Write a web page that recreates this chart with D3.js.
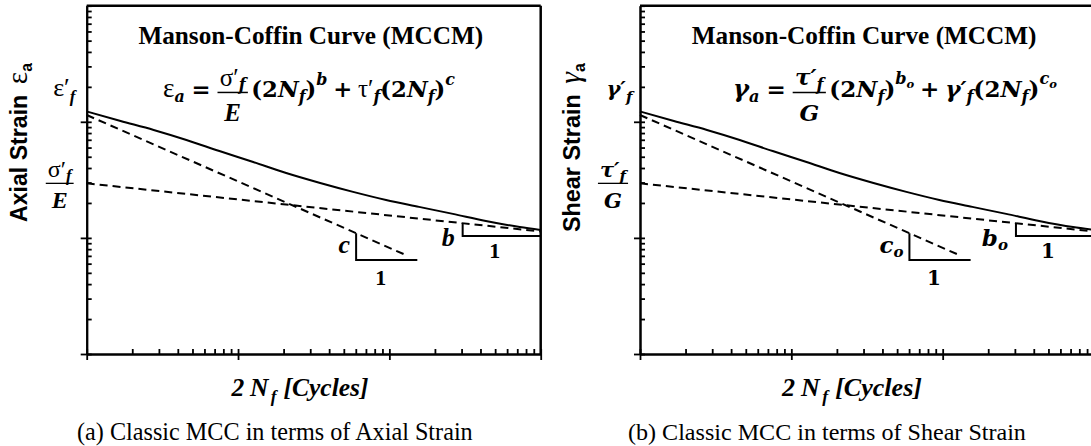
<!DOCTYPE html>
<html>
<head>
<meta charset="utf-8">
<script src="https://cdn.jsdelivr.net/npm/d3@7"></script>
<style>
  body { margin: 0; background: #fff; }
  svg text { fill: #000; }
</style>
</head>
<body>
<svg id="fig" width="1091" height="446"></svg>
<script>
// values: 2Nf (cycles) and strain amplitude, log-log
const xDomain = [1, 1000];
const yDomain = [1e-4, 1e-1];

const cycles = [1, 1.675, 2.77, 4.56, 7.53, 12.6, 20.8, 34.9, 57.6, 95.1, 157, 263, 434, 727, 1000];
const totalStrain = [0.01227, 0.01016, 0.0085, 0.00697, 0.0056, 0.0045, 0.00362, 0.00297, 0.00249, 0.00212, 0.00185, 0.00161, 0.0014, 0.00124, 0.00117];

const plasticCycles = [1, 133];
const plasticStrain = [0.01144, 0.000698];

const elasticCycles = [1, 1000];
const elasticStrain = [0.00295, 0.001135];

// slope triangles: [x left, x right, y top, y bottom]
const triC = [60.3, 153, 0.001098, 0.000645];
const triB = [305, 1000, 0.00134, 0.00104];

const W = 454, H = 348.3;

const SERIF = '"Liberation Serif", "Times New Roman", serif';
const MATH = '"DejaVu Serif", Cambria, serif';
const FONT = {
  r:   { family: SERIF, weight: 400, style: 'normal' },
  b:   { family: SERIF, weight: 700, style: 'normal' },
  bi:  { family: SERIF, weight: 700, style: 'italic' },
  i:   { family: SERIF, weight: 400, style: 'italic' },
  m:   { family: MATH, weight: 700, style: 'normal' },
  mi:  { family: MATH, weight: 700, style: 'italic' },
  sb:  { family: '"Liberation Sans", Arial, sans-serif', weight: 700, style: 'normal' }
};

function put(g, x, y, t, f, s) {
  const F = FONT[f];
  return g.append('text')
    .attr('x', x).attr('y', y)
    .style('font-family', F.family)
    .style('font-weight', F.weight)
    .style('font-style', F.style)
    .style('font-size', s + 'px')
    .text(t);
}

// draws a run of text pieces on baseline 0, returns width
function writeRuns(g, list) {
  let x = 0;
  for (const r of list) {
    x += r.pre || 0;
    if (r.num) {
      const ng = g.append('g'), dg = g.append('g');
      const nw = writeRuns(ng, r.num), dw = writeRuns(dg, r.den);
      const w = Math.max(nw, dw) + 4;
      ng.attr('transform', `translate(${x + (w - nw) / 2},${-r.up})`);
      dg.attr('transform', `translate(${x + (w - dw) / 2},${r.down})`);
      g.append('line')
        .attr('x1', x).attr('x2', x + w)
        .attr('y1', -r.bar).attr('y2', -r.bar)
        .attr('stroke', '#000').attr('stroke-width', 1.3);
      x += w;
    } else {
      const t = put(g, x, r.dy || 0, r.t, r.f, r.s || 22);
      x += t.node().getComputedTextLength();
    }
    x += r.post || 0;
  }
  return x;
}

function block(parent, x, y, list, anchor, rot, fitW) {
  const g = parent.append('g');
  const w = writeRuns(g, list);
  const k = fitW ? fitW / w : 1;
  const shift = anchor === 'middle' ? -w / 2 : anchor === 'end' ? -w : 0;
  g.attr('transform', `translate(${x},${y})${rot ? ' rotate(' + rot + ')' : ''} scale(${k}) translate(${shift},0)`);
  return g;
}

const sub = (t, f = 'mi', s = 14) => ({ t, f, s, dy: 4 });
const sup = (t, f = 'mi', s = 14) => ({ t, f, s, dy: -11 });

const panels = [
  {
    ox: 86.7,
    formulaX: 163 - 86.7, formulaW: 292,
    formula: [
      { t: 'ε', f: 'r', s: 24 }, sub('a'),
      { t: '=', f: 'm', s: 20, pre: 6, post: 6 },
      { num: [{ t: 'σ′', f: 'r', s: 22 }, sub('f')], den: [{ t: 'E', f: 'bi', s: 22 }], up: 10, down: 21, bar: 4 },
      { t: '(2', f: 'm', s: 20, pre: 3 }, { t: 'N', f: 'mi', s: 20 }, sub('f'), { t: ')', f: 'm', s: 20 },
      sup('b'),
      { t: '+', f: 'm', s: 20, pre: 5, post: 5 },
      { t: 'τ′', f: 'r', s: 22 }, sub('f'),
      { t: '(2', f: 'm', s: 20 }, { t: 'N', f: 'mi', s: 20 }, sub('f'), { t: ')', f: 'm', s: 20 },
      sup('c')
    ],
    yTitle: [{ t: 'Axial Strain', f: 'sb', s: 22 }, { t: 'ε', f: 'r', s: 28, pre: 10 }, { t: 'a', f: 'sb', s: 15, dy: 5 }],
    yTitleX: 27 - 86.7, yTitleW: 159,
    topLabel: [{ t: 'ε′', f: 'r', s: 26 }, { t: 'f', f: 'bi', s: 17, dy: 6 }],
    fracLabel: [{ num: [{ t: 'σ′', f: 'r', s: 24 }, { t: 'f', f: 'bi', s: 17, dy: 4 }], den: [{ t: 'E', f: 'bi', s: 24 }], up: 6.5, down: 24.5, bar: 0 }],
    cLabel: [{ t: 'c', f: 'bi', s: 26 }],
    bLabel: [{ t: 'b', f: 'bi', s: 26 }],
    one: { t: '1', f: 'b', s: 22 },
    caption: '(a) Classic MCC in terms of Axial Strain',
    captionX: 275, captionW: 396,
    xTitleX: 300, xTitleW: 137
  },
  {
    ox: 640,
    formulaX: 733 - 640, formulaW: 324,
    formula: [
      { t: 'γ', f: 'mi', s: 21 }, sub('a'),
      { t: '=', f: 'm', s: 20, pre: 6, post: 6 },
      { num: [{ t: 'τ′', f: 'mi', s: 20 }, sub('f')], den: [{ t: 'G', f: 'mi', s: 20 }], up: 10, down: 21, bar: 4 },
      { t: '(2', f: 'm', s: 20, pre: 3 }, { t: 'N', f: 'mi', s: 20 }, sub('f'), { t: ')', f: 'm', s: 20 },
      sup('b'), { t: 'o', f: 'mi', s: 10, dy: -8 },
      { t: '+', f: 'm', s: 20, pre: 5, post: 5 },
      { t: 'γ′', f: 'mi', s: 20 }, sub('f'),
      { t: '(2', f: 'm', s: 20 }, { t: 'N', f: 'mi', s: 20 }, sub('f'), { t: ')', f: 'm', s: 20 },
      sup('c'), { t: 'o', f: 'mi', s: 10, dy: -8 }
    ],
    yTitle: [{ t: 'Shear Strain', f: 'sb', s: 22 }, { t: 'γ', f: 'i', s: 28, pre: 10 }, { t: 'a', f: 'sb', s: 15, dy: 5 }],
    yTitleX: 580 - 640, yTitleW: 169,
    topLabel: [{ t: 'γ′', f: 'mi', s: 21 }, { t: 'f', f: 'mi', s: 15, dy: 6 }],
    fracLabel: [{ num: [{ t: 'τ′', f: 'mi', s: 21 }, { t: 'f', f: 'mi', s: 15, dy: 4 }], den: [{ t: 'G', f: 'mi', s: 21 }], up: 6, down: 25, bar: 0 }],
    cLabel: [{ t: 'c', f: 'mi', s: 23 }, { t: 'o', f: 'mi', s: 15, dy: 4 }],
    bLabel: [{ t: 'b', f: 'mi', s: 23 }, { t: 'o', f: 'mi', s: 15, dy: 4 }],
    one: { t: '1', f: 'm', s: 20 },
    caption: '(b) Classic MCC in terms of Shear Strain',
    captionX: 827, captionW: 398,
    xTitleX: 852, xTitleW: 140
  }
];

const svg = d3.select('#fig');

function styleAxis(sel) {
  sel.selectAll('path').attr('stroke', '#000').attr('stroke-width', 2);
  sel.selectAll('line').attr('stroke', '#000').attr('stroke-width', 1.8);
}

panels.forEach(p => {
  const g = svg.append('g').attr('transform', `translate(${p.ox},5.7)`);
  const x = d3.scaleLog().domain(xDomain).range([0, W]);
  const y = d3.scaleLog().domain(yDomain).range([H, 0]);
  const xMajor = [1, 10, 100, 1000];
  const yMajor = [1e-4, 1e-3, 1e-2];

  // inward minor + major ticks, majors also poke outward
  g.append('g').attr('transform', `translate(0,${H})`)
    .call(d3.axisTop(x).tickValues(x.ticks()).tickSize(5).tickSizeOuter(0).tickFormat(''))
    .call(styleAxis);
  g.append('g').attr('transform', `translate(0,${H})`)
    .call(d3.axisBottom(x).tickValues(xMajor).tickSize(6).tickSizeOuter(0).tickFormat(''))
    .call(styleAxis);
  g.append('g')
    .call(d3.axisRight(y).tickValues(y.ticks()).tickSize(5).tickSizeOuter(0).tickFormat(''))
    .call(styleAxis);
  g.append('g')
    .call(d3.axisLeft(y).tickValues(yMajor).tickSize(6).tickSizeOuter(0).tickFormat(''))
    .call(styleAxis);

  // frame top and right
  g.append('line').attr('x1', 0).attr('x2', W).attr('y1', 0).attr('y2', 0)
    .attr('stroke', '#000').attr('stroke-width', 2.5);
  g.append('line').attr('x1', W).attr('x2', W).attr('y1', 0).attr('y2', H)
    .attr('stroke', '#000').attr('stroke-width', 2.5);

  const line = d3.line().x(d => x(d[0])).y(d => y(d[1]));

  g.append('path')
    .attr('d', line.curve(d3.curveMonotoneX)(d3.zip(cycles, totalStrain)))
    .attr('fill', 'none').attr('stroke', '#000').attr('stroke-width', 2);
  line.curve(d3.curveLinear);
  [[plasticCycles, plasticStrain], [elasticCycles, elasticStrain]].forEach(([cx, cy]) => {
    g.append('path')
      .attr('d', line(d3.zip(cx, cy)))
      .attr('fill', 'none').attr('stroke', '#000').attr('stroke-width', 2)
      .attr('stroke-dasharray', '8,5');
  });

  // slope triangles
  [triC, triB].forEach(t => {
    g.append('path')
      .attr('d', line([[t[0], t[2]], [t[0], t[3]], [t[1], t[3]]]))
      .attr('fill', 'none').attr('stroke', '#000').attr('stroke-width', 2);
  });

  block(g, x(triC[0]) - 6, y(triC[3]) - 7, p.cLabel, 'end');
  block(g, (x(triC[0]) + x(triC[1])) / 2 - 6, y(triC[3]) + 25, [p.one], 'middle');
  block(g, x(triB[0]) - 8, y(triB[3]) + 10, p.bLabel, 'end');
  block(g, (x(triB[0]) + x(triB[1])) / 2 - 7, y(triB[3]) + 22, [p.one], 'middle');

  // y-axis annotations
  block(g, -33.5, y(plasticStrain[0]) - 19, p.topLabel, 'start');
  block(g, -27, y(elasticStrain[0]), p.fracLabel, 'middle');

  // titles
  block(g, 224.2, 38.3, [{ t: 'Manson-Coffin Curve (MCCM)', f: 'b', s: 24 }], 'middle', 0, 345);
  block(g, p.formulaX, 91.3, p.formula, 'start', 0, p.formulaW);
  block(g, p.yTitleX, 57.3, p.yTitle, 'end', -90, p.yTitleW);

  block(svg, p.xTitleX, 396, [
    { t: '2', f: 'bi', s: 22 }, { t: 'N', f: 'bi', s: 22, pre: 5 },
    { t: 'f', f: 'bi', s: 15, dy: 5, pre: 2 }, { t: '[Cycles]', f: 'bi', s: 22, pre: 6 }
  ], 'middle', 0, p.xTitleW);
  block(svg, p.captionX, 440, [{ t: p.caption, f: 'r', s: 24 }], 'middle', 0, p.captionW);
});
</script>
</body>
</html>
